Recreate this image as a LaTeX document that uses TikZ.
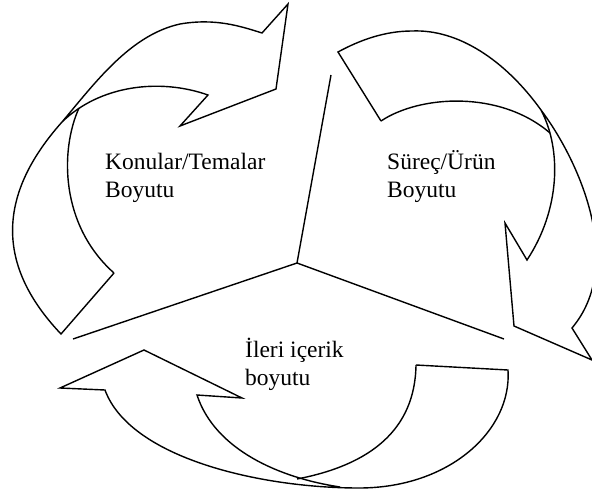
\documentclass[tikz,border=0pt]{standalone}
\usepackage{fontspec}
\setmainfont{Liberation Serif}
\begin{document}
\begin{tikzpicture}[x=1pt,y=-1pt,
  edge/.style={draw=black,line width=1.4pt,line join=miter},
  lbl/.style={inner sep=0pt,anchor=base west,align=left,font=\fontsize{23.5}{27.5}\selectfont}]
\useasboundingbox (0,0) rectangle (592,493);
\clip (0,0) rectangle (592,493);
% spokes
\coordinate (c) at (297,263);
\coordinate (s1) at (331,75);
\coordinate (s2) at (73,339);
\coordinate (s3) at (504,339);
\draw[edge] (c) -- (s1);
\draw[edge] (c) -- (s2);
\draw[edge] (c) -- (s3);
% arrow 1 (top-left)
\draw[edge] (114,273) -- (61,334)
  .. controls (5,275) and (-12,205) .. (62,122)
  .. controls (95,83) and (130,35) .. (180,24)
  .. controls (215,18) and (240,26) .. (262,33)
  -- (288,4) -- (276,89) -- (180,126) -- (208,95)
  .. controls (160,78) and (100,85) .. (62,122);
\draw[edge] (79,108) .. controls (60,150) and (60,225) .. (114,273);
% arrow 2 (top-right)
\draw[edge] (381,121) -- (338,52)
  .. controls (360,40) and (385,31) .. (412,31)
  .. controls (458,29) and (505,60) .. (541,110)
  .. controls (580,162) and (625,265) .. (572,328)
  -- (592,360) -- (514,326) -- (505,223) -- (527,260)
  .. controls (560,210) and (562,150) .. (541,110);
\draw[edge] (381,121) .. controls (420,95) and (500,90) .. (550,133);
% arrow 3 (bottom)
\draw[edge] (416,365) -- (508,370)
  .. controls (512,430) and (450,488) .. (359,488)
  .. controls (260,488) and (130,458) .. (105,390)
  -- (60,388) -- (144,350) -- (242,398) -- (197,395)
  .. controls (215,450) and (280,478) .. (340,487);
\draw[edge] (416,365) .. controls (415,430) and (370,465) .. (297,479);
% labels
\node[lbl] (t1) at (105,197) {Konular/Temalar\\Boyutu};
\node[lbl] (t2) at (387,197) {Süreç/Ürün\\Boyutu};
\node[lbl] (t3) at (245,385) {İleri içerik\\boyutu};
\end{tikzpicture}
\end{document}
